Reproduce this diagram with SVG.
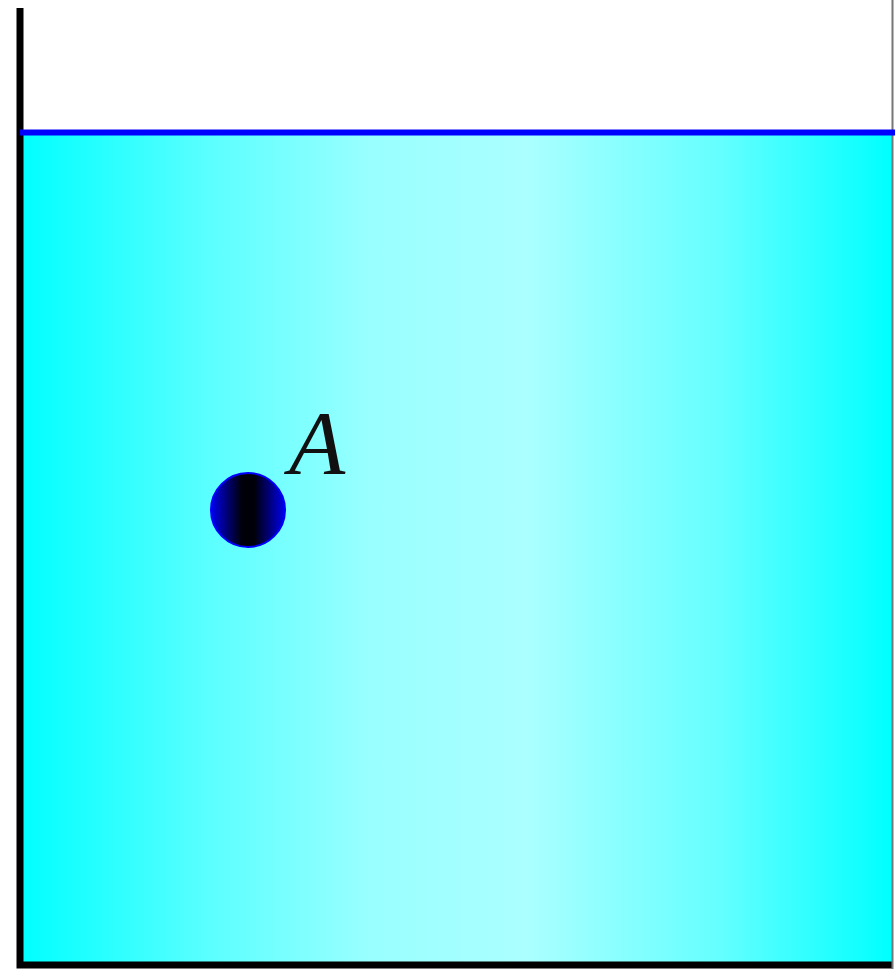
<svg xmlns="http://www.w3.org/2000/svg" width="895" height="969" viewBox="0 0 895 969">
<defs>
<linearGradient id="water" x1="0" y1="0" x2="1" y2="0">
<stop offset="0" stop-color="#00ffff"/>
<stop offset="0.22" stop-color="#5cffff"/>
<stop offset="0.4" stop-color="#99ffff"/>
<stop offset="0.58" stop-color="#abffff"/>
<stop offset="0.8" stop-color="#66ffff"/>
<stop offset="1" stop-color="#00ffff"/>
</linearGradient>
<linearGradient id="ball" x1="0" y1="0" x2="1" y2="0">
<stop offset="0" stop-color="#0000ee"/>
<stop offset="0.42" stop-color="#000008"/>
<stop offset="0.58" stop-color="#000008"/>
<stop offset="1" stop-color="#0000ee"/>
</linearGradient>
<style>
.wall{stroke:#000;stroke-width:7;fill:none}
.surface{stroke:#0000ff;stroke-width:6}
.label{font-family:"Liberation Serif",serif;font-style:italic;font-size:92px;fill:#111}
</style>
</defs>
<rect x="0" y="0" width="895" height="969" fill="#fff"/>
<g id="water-body">
<rect x="20" y="132" width="872" height="832" fill="url(#water)"/>
</g>
<g id="container">
<path class="wall" d="M20 8 V965 H893"/>
<line x1="892.5" y1="0" x2="892.5" y2="969" stroke="#777" stroke-width="2"/>
</g>
<g id="surface">
<line class="surface" x1="20" y1="132.5" x2="895" y2="132.5"/>
</g>
<g id="ballA">
<circle cx="248" cy="510" r="37" fill="url(#ball)" stroke="#0000ff" stroke-width="2"/>
<text class="label" x="289" y="474">A</text>
</g>
</svg>
